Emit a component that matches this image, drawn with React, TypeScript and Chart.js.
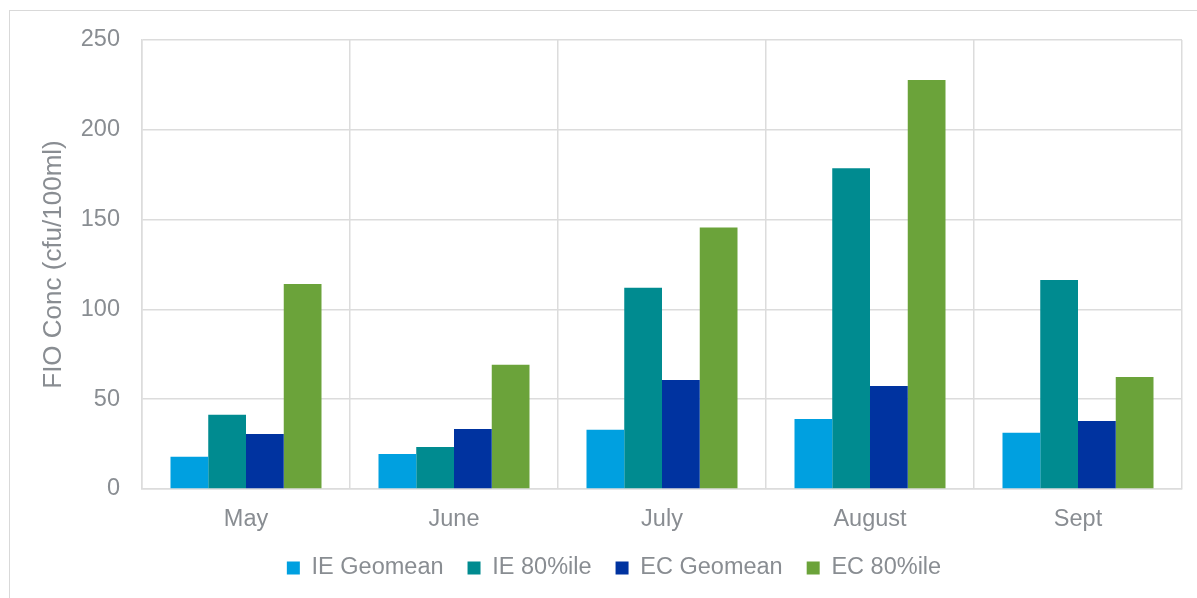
import React, { useEffect, useRef } from "react";
import { Chart, registerables } from "chart.js";

Chart.register(...registerables);

const categories = ["May", "June", "July", "August", "Sept"];
const ieGeomean = [18, 19.5, 33, 39, 31.3];
const ie80 = [41.4, 23.4, 112, 178.6, 116.4];
const ecGeomean = [30.6, 33.4, 60.7, 57.3, 37.9];
const ec80 = [114.2, 69.2, 145.6, 227.7, 62.4];
const yTicks = [0, 50, 100, 150, 200, 250];

const seriesNames = ["IE Geomean", "IE 80%ile", "EC Geomean", "EC 80%ile"];
const seriesColors = ["#00A0E0", "#008B90", "#0033A0", "#6BA33A"];

const W = 1197;
const H = 598;
const textColor = "#898D92";
const gridColor = "#DCDCDC";
const fontFamily = "'Liberation Sans', Arial, sans-serif";

const legendShift = {
  id: "legendShift",
  afterLayout(chart: any) {
    const l = chart.legend;
    if (l) {
      l.left += 23;
      l.right += 23;
    }
  },
};

export default function App() {
  const ref = useRef<HTMLCanvasElement | null>(null);

  useEffect(() => {
    if (!ref.current) return;
    const seriesData = [ieGeomean, ie80, ecGeomean, ec80];
    const chart = new Chart(ref.current, {
      type: "bar",
      data: {
        labels: categories,
        datasets: seriesData.map((d, i) => ({
          label: seriesNames[i],
          data: d,
          backgroundColor: seriesColors[i],
          borderWidth: 0,
          categoryPercentage: 0.726,
          barPercentage: 1.0,
        })),
      },
      plugins: [legendShift],
      options: {
        responsive: false,
        animation: false,
        devicePixelRatio: 1,
        layout: { padding: { left: 0, right: 15, top: 40, bottom: 8.25 } },
        plugins: {
          legend: {
            position: "bottom",
            labels: {
              boxWidth: 13,
              boxHeight: 13,
              padding: 24,
              color: textColor,
              font: { family: fontFamily, size: 23.5 },
            },
          },
          tooltip: { enabled: false },
        },
        scales: {
          x: {
            grid: { color: gridColor, lineWidth: 1.5, drawTicks: false, offset: true },
            border: { color: gridColor, width: 1.5 },
            ticks: {
              color: textColor,
              font: { family: fontFamily, size: 23.5 },
              padding: 16,
              maxRotation: 0,
            },
            afterFit: (s: any) => {
              s.height = 43.25;
            },
          },
          y: {
            min: 0,
            max: 250,
            afterBuildTicks: (s: any) => {
              s.ticks = yTicks.map((v) => ({ value: v }));
            },
            grid: { color: gridColor, lineWidth: 1.5, drawTicks: false },
            border: { color: gridColor, width: 1.5 },
            ticks: {
              color: textColor,
              font: { family: fontFamily, size: 23.5 },
              padding: 22,
            },
            title: {
              display: true,
              text: "FIO Conc (cfu/100ml)",
              color: textColor,
              font: { family: fontFamily, size: 26 },
              padding: { top: 38, bottom: 0 },
            },
            afterFit: (s: any) => {
              s.width = 142;
            },
          },
        },
      },
    });
    return () => chart.destroy();
  }, []);

  return (
    <div style={{ position: "fixed", left: 0, top: 0, width: W, height: H, background: "#fff", overflow: "hidden" }}>
      <div
        style={{
          position: "absolute",
          left: 9,
          top: 10,
          width: 1210,
          height: 620,
          border: "1.5px solid #D9D9D9",
        }}
      />
      <canvas ref={ref} width={W} height={H} style={{ position: "absolute", left: 0, top: 0, width: W, height: H }} />
    </div>
  );
}
